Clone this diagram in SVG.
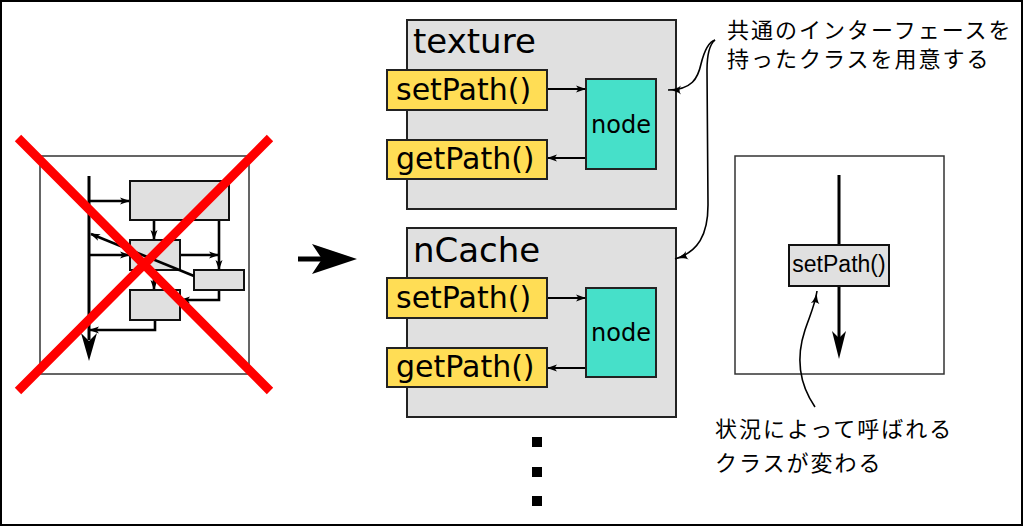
<svg xmlns="http://www.w3.org/2000/svg" width="1024" height="527" viewBox="0 0 1024 527">
<defs>
<style>
.frame{fill:#fff;stroke:#000;stroke-width:2}
.panel{fill:#e0e0e0;stroke:#222;stroke-width:2}
.meth{fill:#ffdd55;stroke:#222;stroke-width:2}
.node{fill:#46e0c9;stroke:#222;stroke-width:2}
.gbox{fill:#e0e0e0;stroke:#111;stroke-width:2}
.ln{fill:none;stroke:#000;stroke-width:2.2}
.ln2{fill:none;stroke:#000;stroke-width:2.6}
.thin{fill:none;stroke:#000;stroke-width:1.6}
.lat{font-family:"DejaVu Sans","Bitstream Vera Sans",sans-serif;fill:#000}
.ari{font-family:"Liberation Sans",Arial,sans-serif;fill:#000}
.jp{font-family:"Noto Sans CJK JP","Noto Sans CJK SC",sans-serif;font-size:22px;letter-spacing:2px;fill:#000}
</style>
<marker id="ah" viewBox="0 0 10 8" refX="9" refY="4" markerWidth="10" markerHeight="8" markerUnits="userSpaceOnUse" orient="auto">
<path d="M0,0.5 L10,4 L0,7.5 L2.5,4 Z" fill="#000"/>
</marker>
<marker id="ahc" viewBox="0 0 14 10" refX="13" refY="5" markerWidth="14" markerHeight="10" markerUnits="userSpaceOnUse" orient="auto">
<path d="M0,0.5 C3,3 7,4.5 13,5 C7,5.5 3,7 0,9.5 C2,7 2,3 0,0.5 Z" fill="#000"/>
</marker>
</defs>
<rect class="frame" x="1" y="1" width="1021" height="524"/>

<g id="old-diagram">
<rect x="40" y="156" width="209" height="218" fill="#fff" stroke="#333" stroke-width="1.5"/>
<rect class="gbox" x="130" y="181" width="99" height="39"/>
<rect class="gbox" x="130" y="240" width="50" height="30"/>
<rect class="gbox" x="194" y="270" width="50" height="20"/>
<rect class="gbox" x="130" y="290" width="50" height="30"/>
</g>

<g id="texture">
<rect class="panel" x="407" y="20" width="269" height="189"/>
<text class="lat" x="413" y="53" font-size="34">texture</text>
</g>
<g id="texture-setPath">
<rect class="meth" x="387" y="70" width="160" height="40"/>
<text class="lat" x="396" y="100" font-size="30">setPath()</text>
</g>
<g id="texture-getPath">
<rect class="meth" x="387" y="140" width="160" height="39"/>
<text class="lat" x="396" y="169" font-size="30">getPath()</text>
</g>
<g id="texture-node">
<rect class="node" x="586" y="79" width="70" height="90"/>
<text class="lat" x="621" y="133" font-size="24" text-anchor="middle">node</text>
</g>

<g id="nCache">
<rect class="panel" x="407" y="228" width="269" height="189"/>
<text class="lat" x="413" y="262" font-size="34">nCache</text>
</g>
<g id="nCache-setPath">
<rect class="meth" x="387" y="278" width="160" height="40"/>
<text class="lat" x="396" y="308" font-size="30">setPath()</text>
</g>
<g id="nCache-getPath">
<rect class="meth" x="387" y="348" width="160" height="39"/>
<text class="lat" x="396" y="377" font-size="30">getPath()</text>
</g>
<g id="nCache-node">
<rect class="node" x="586" y="288" width="70" height="89"/>
<text class="lat" x="621" y="341" font-size="24" text-anchor="middle">node</text>
</g>

<g id="more">
<rect x="532" y="437" width="10" height="10" fill="#000"/>
<rect x="532" y="467" width="10" height="10" fill="#000"/>
<rect x="532" y="496" width="10" height="10" fill="#000"/>
</g>

<g id="note-interface">
<text class="jp" x="727" y="38">共通のインターフェースを</text>
<text class="jp" x="727" y="67">持ったクラスを用意する</text>
</g>

<g id="new-diagram">
<rect x="735" y="156" width="209" height="218" fill="none" stroke="#333" stroke-width="1.5"/>
</g>
<g id="new-setPath">
<rect class="gbox" x="789" y="245" width="100" height="41"/>
<text class="ari" x="839" y="272" font-size="23" text-anchor="middle">setPath()</text>
</g>

<g id="note-switch">
<text class="jp" x="715" y="437">状況によって呼ばれる</text>
<text class="jp" x="715" y="471">クラスが変わる</text>
</g>

<g id="connectors">
<path d="M89,176 V340" fill="none" stroke="#000" stroke-width="3"/>
<path d="M89,361 L81,333 L89,341 L97,333 Z" fill="#000"/>
<path class="ln2" d="M89,201 H129" marker-end="url(#ah)"/>
<path class="ln2" d="M154,221 V239" marker-end="url(#ah)"/>
<path class="ln2" d="M219,221 V269" marker-end="url(#ah)"/>
<path class="ln2" d="M89,255 H129" marker-end="url(#ah)"/>
<path class="ln2" d="M181,255 H218" marker-end="url(#ah)"/>
<path class="ln2" d="M194,276 L91,234" marker-end="url(#ah)"/>
<path class="ln2" d="M154,271 V289" marker-end="url(#ah)"/>
<path class="ln2" d="M219,291 V300 H181" marker-end="url(#ah)"/>
<path class="ln2" d="M155,321 V330 H90" marker-end="url(#ah)"/>

<path d="M298,259 H322" stroke="#000" stroke-width="5" fill="none"/>
<path d="M357,259 L312,244 L322,259 L312,274 Z" fill="#000"/>

<path class="ln" d="M548,89 H585" marker-end="url(#ah)"/>
<path class="ln" d="M585,158 H548" marker-end="url(#ah)"/>
<path class="ln" d="M548,298 H585" marker-end="url(#ah)"/>
<path class="ln" d="M585,368 H548" marker-end="url(#ah)"/>

<path class="thin" d="M715,40 C708,42 704,52 701,64 C698,78 692,90 668,90" marker-end="url(#ahc)"/>
<path class="thin" d="M715,40 C709,45 707,55 707,70 L708,205 C708,235 698,252 675,259" marker-end="url(#ahc)"/>

<path d="M839,175 V244 M839,287 V338" fill="none" stroke="#000" stroke-width="3"/>
<path d="M839,359 L832,331 L839,338 L846,331 Z" fill="#000"/>
<path class="thin" d="M815,407 C800,385 795,360 805,330 C810,315 815,305 817,291" marker-end="url(#ahc)"/>
</g>

<g id="cross">
<path d="M18,138 L270,391 M270,138 L18,391" stroke="#ff0000" stroke-width="9" fill="none"/>
</g>
</svg>
